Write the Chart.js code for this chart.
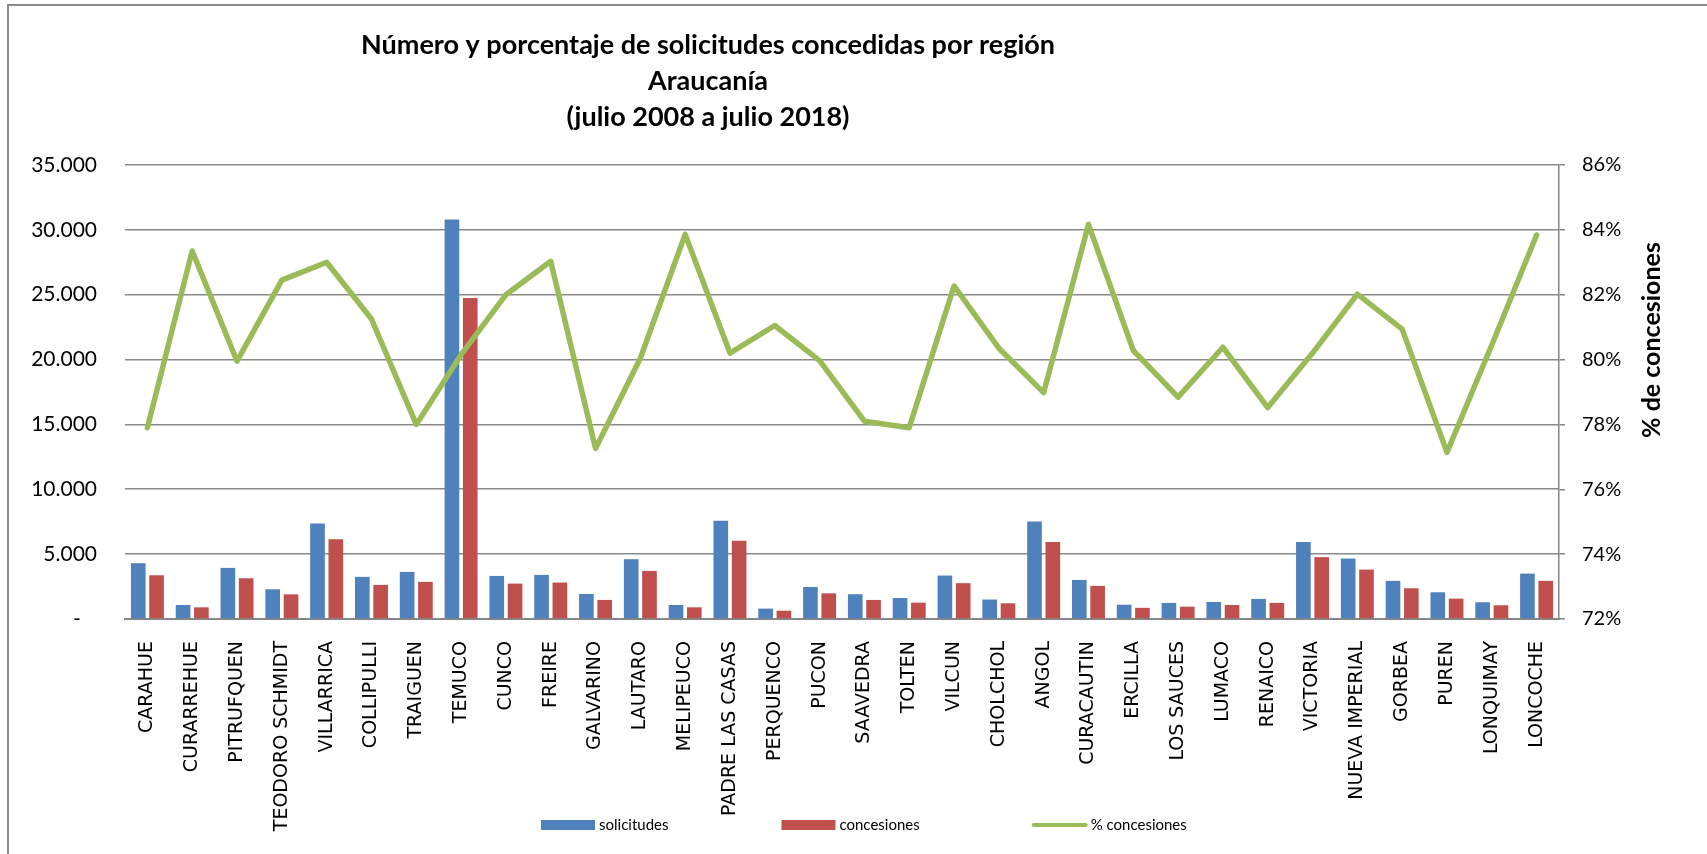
<!DOCTYPE html>
<html>
<head>
<meta charset="utf-8">
<script src="https://cdn.jsdelivr.net/npm/chart.js@4.4.0/dist/chart.umd.min.js"></script>
<style>
html,body{margin:0;padding:0;background:#fff;overflow:hidden;width:1707px;height:854px;}
#frame{position:absolute;left:7px;top:4px;width:1760px;height:900px;border-left:2px solid #8a8a8a;border-top:2px solid #8a8a8a;box-sizing:border-box;}
#c{position:absolute;left:0;top:0;}
</style>
</head>
<body>
<div id="frame"></div>
<canvas id="c" width="1707" height="854"></canvas>
<script>
const categories = ['CARAHUE','CURARREHUE','PITRUFQUEN','TEODORO SCHMIDT','VILLARRICA','COLLIPULLI','TRAIGUEN','TEMUCO','CUNCO','FREIRE','GALVARINO','LAUTARO','MELIPEUCO','PADRE LAS CASAS','PERQUENCO','PUCON','SAAVEDRA','TOLTEN','VILCUN','CHOLCHOL','ANGOL','CURACAUTIN','ERCILLA','LOS SAUCES','LUMACO','RENAICO','VICTORIA','NUEVA IMPERIAL','GORBEA','PUREN','LONQUIMAY','LONCOCHE'];
const solicitudes = [4300,1080,3940,2290,7370,3250,3630,30800,3320,3400,1930,4610,1080,7570,800,2470,1910,1620,3350,1500,7520,3010,1100,1240,1310,1550,5930,4660,2940,2060,1290,3500];
const concesiones = [3370,900,3140,1900,6150,2630,2860,24750,2730,2810,1470,3710,900,6030,640,1980,1470,1260,2760,1210,5930,2550,860,950,1080,1240,4770,3810,2370,1570,1060,2940];
const pctConcesiones = [77.9,83.35,79.95,82.45,83.0,81.25,78.0,80.15,82.0,83.03,77.26,80.04,83.86,80.2,81.05,79.97,78.1,77.9,82.27,80.35,78.98,84.17,80.28,78.84,80.38,78.52,80.2,82.02,80.94,77.14,80.45,83.84];
const leftTicks = {min: 0, max: 35000, step: 5000};
const rightTicks = {min: 72, max: 86, step: 2};
const titleLines = ['Número y porcentaje de solicitudes concedidas por región', 'Araucanía', '(julio 2008 a julio 2018)'];
const rightAxisTitle = '% de concesiones';
const seriesNames = ['solicitudes', 'concesiones', '% concesiones'];

function fmtThousands(v) {
  if (v === 0) return '-   ';
  return String(Math.round(v)).replace(/\B(?=(\d{3})+(?!\d))/g, '.');
}

const decor = {
  id: 'decor',
  afterDraw(chart) {
    const ctx = chart.ctx;
    ctx.save();
    ctx.fillStyle = '#000';
    // title
    ctx.textAlign = 'center';
    ctx.textBaseline = 'alphabetic';
    ctx.font = 'bold 27px Lato';
    const tBase = [54, 90, 126];
    titleLines.forEach((t, i) => ctx.fillText(t, 708, tBase[i]));
    // right axis title
    ctx.save();
    ctx.translate(1660, 340);
    ctx.rotate(-Math.PI / 2);
    ctx.font = 'bold 25px Lato';
    ctx.textAlign = 'center';
    ctx.textBaseline = 'alphabetic';
    ctx.fillText(rightAxisTitle, 0, 0);
    ctx.restore();
    // legend
    ctx.font = '15px Lato';
    ctx.textAlign = 'left';
    ctx.textBaseline = 'middle';
    let x = 541;
    const y = 825;
    chart.data.datasets.forEach(ds => {
      if (ds.type === 'line') {
        ctx.strokeStyle = ds.borderColor;
        ctx.lineWidth = 4;
        ctx.lineCap = 'round';
        ctx.beginPath();
        ctx.moveTo(x + 1, y);
        ctx.lineTo(x + 53, y);
        ctx.stroke();
      } else {
        ctx.fillStyle = ds.backgroundColor;
        ctx.fillRect(x, y - 5, 54, 10);
      }
      ctx.fillStyle = '#000';
      ctx.fillText(ds.label, x + 58, y);
      x += 58 + ctx.measureText(ds.label).width + 113;
    });
    ctx.restore();
  }
};

const chart = new Chart(document.getElementById('c'), {
  data: {
    labels: categories,
    datasets: [
      {type: 'bar', label: seriesNames[0], data: solicitudes, backgroundColor: '#4F81BD', yAxisID: 'y', order: 1, categoryPercentage: 0.817, barPercentage: 0.8},
      {type: 'bar', label: seriesNames[1], data: concesiones, backgroundColor: '#C0504D', yAxisID: 'y', order: 1, categoryPercentage: 0.817, barPercentage: 0.8},
      {type: 'line', label: seriesNames[2], data: pctConcesiones, borderColor: '#9BBB59', backgroundColor: '#9BBB59', borderWidth: 5.5, pointRadius: 0, tension: 0, yAxisID: 'y1', order: 0, borderJoinStyle: 'round', borderCapStyle: 'round'}
    ]
  },
  options: {
    responsive: false,
    animation: false,
    devicePixelRatio: 1,
    layout: {padding: {top: 165, left: 0, right: 0, bottom: 0}},
    plugins: {legend: {display: false}, tooltip: {enabled: false}, title: {display: false}},
    scales: {
      x: {
        offset: true,
        grid: {display: false, drawTicks: false},
        border: {display: true, color: '#868686', width: 2},
        ticks: {autoSkip: false, minRotation: 90, maxRotation: 90, padding: 22, color: '#000', font: {family: 'DejaVu Sans', size: 19}},
        afterFit(s) { s.height = 235; }
      },
      y: {
        position: 'left',
        min: leftTicks.min, max: leftTicks.max,
        grid: {color: '#8a8a8a', lineWidth: 1.6, drawTicks: false},
        border: {display: false},
        ticks: {stepSize: leftTicks.step, padding: 28, color: '#000', font: {family: 'Lato', size: 21}, callback: v => fmtThousands(v)},
        afterFit(s) { s.width = 125; }
      },
      y1: {
        position: 'right',
        min: rightTicks.min, max: rightTicks.max,
        grid: {drawOnChartArea: false, drawTicks: true, tickLength: 6, color: '#868686', lineWidth: 1.5},
        border: {display: true, color: '#868686', width: 1.5},
        ticks: {stepSize: rightTicks.step, padding: 17, color: '#000', font: {family: 'Lato', size: 20}, callback: v => Math.round(v) + '%'},
        afterFit(s) { s.width = 148; }
      }
    }
  },
  plugins: [decor]
});
</script>
</body>
</html>
